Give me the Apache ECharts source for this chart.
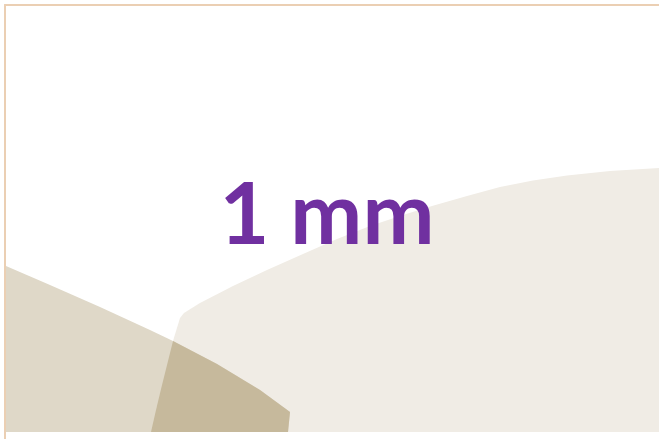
<!DOCTYPE html>
<html>
<head>
<meta charset="utf-8">
<style>
  html, body { margin: 0; padding: 0; background: #ffffff; }
  #main { width: 659px; height: 439px; }
</style>
<script src="https://cdn.jsdelivr.net/npm/echarts@6/dist/echarts.min.js"></script>
</head>
<body>
<div id="main"></div>
<script>
// 图中各形状的轮廓点 (x, y)，单位与画面一致
var lightShape = [
    [151, 432], [156, 410], [162, 385], [168, 361], [173, 341], [180, 318],
    [184, 313], [200, 303], [233, 286], [267, 270], [303, 254], [337, 239],
    [370, 226], [403, 215], [432, 206], [467, 196], [500, 187], [533, 180.5],
    [567, 175.5], [610, 171], [659, 168], [659, 432]
];
var darkShape = [
    [6, 266], [50, 285], [100, 307], [150, 330], [173, 341], [217, 364],
    [260, 390], [290, 412], [288, 432], [6, 432]
];
var overlapShape = [
    [173, 341], [217, 364], [260, 390], [290, 412], [288, 432], [151, 432],
    [156, 410], [162, 385], [168, 361]
];
var labelText = '1 mm';

document.addEventListener('DOMContentLoaded', function () {
    var chart = echarts.init(document.getElementById('main'), null, { renderer: 'canvas' });

    // 多边形绘制
    function polygonSeries(points, color, z) {
        return {
            type: 'custom',
            coordinateSystem: 'cartesian2d',
            silent: true,
            z: z,
            data: points,
            renderItem: function (params, api) {
                if (params.dataIndex !== 0) return;
                return {
                    type: 'polygon',
                    shape: { points: points.map(function (p) { return api.coord(p); }) },
                    style: { fill: color, stroke: null }
                };
            }
        };
    }

    var option = {
        backgroundColor: '#ffffff',
        animation: false,
        grid: { left: 5, top: 5, right: 0, bottom: 0 },
        xAxis: {
            type: 'value',
            position: 'top',
            min: 5,
            max: 659,
            axisLine: { show: true, lineStyle: { color: '#ebcfb3', width: 2 } },
            axisTick: { show: false },
            axisLabel: { show: false },
            splitLine: { show: false }
        },
        yAxis: {
            type: 'value',
            inverse: true,
            min: 5,
            max: 439,
            axisLine: { show: true, lineStyle: { color: '#ebcfb3', width: 2 } },
            axisTick: { show: false },
            axisLabel: { show: false },
            splitLine: { show: false }
        },
        graphic: [{
            type: 'text',
            x: 327,
            y: 216,
            z: 100,
            style: {
                text: labelText,
                fill: '#7030a0',
                font: 'bold 86px Lato',
                align: 'center',
                verticalAlign: 'middle'
            }
        }],
        series: [
            polygonSeries(lightShape, '#f0ece5', 1),
            polygonSeries(darkShape, '#dfd8c8', 2),
            polygonSeries(overlapShape, '#c6b99c', 3)
        ]
    };

    chart.setOption(option);
});
</script>
</body>
</html>
